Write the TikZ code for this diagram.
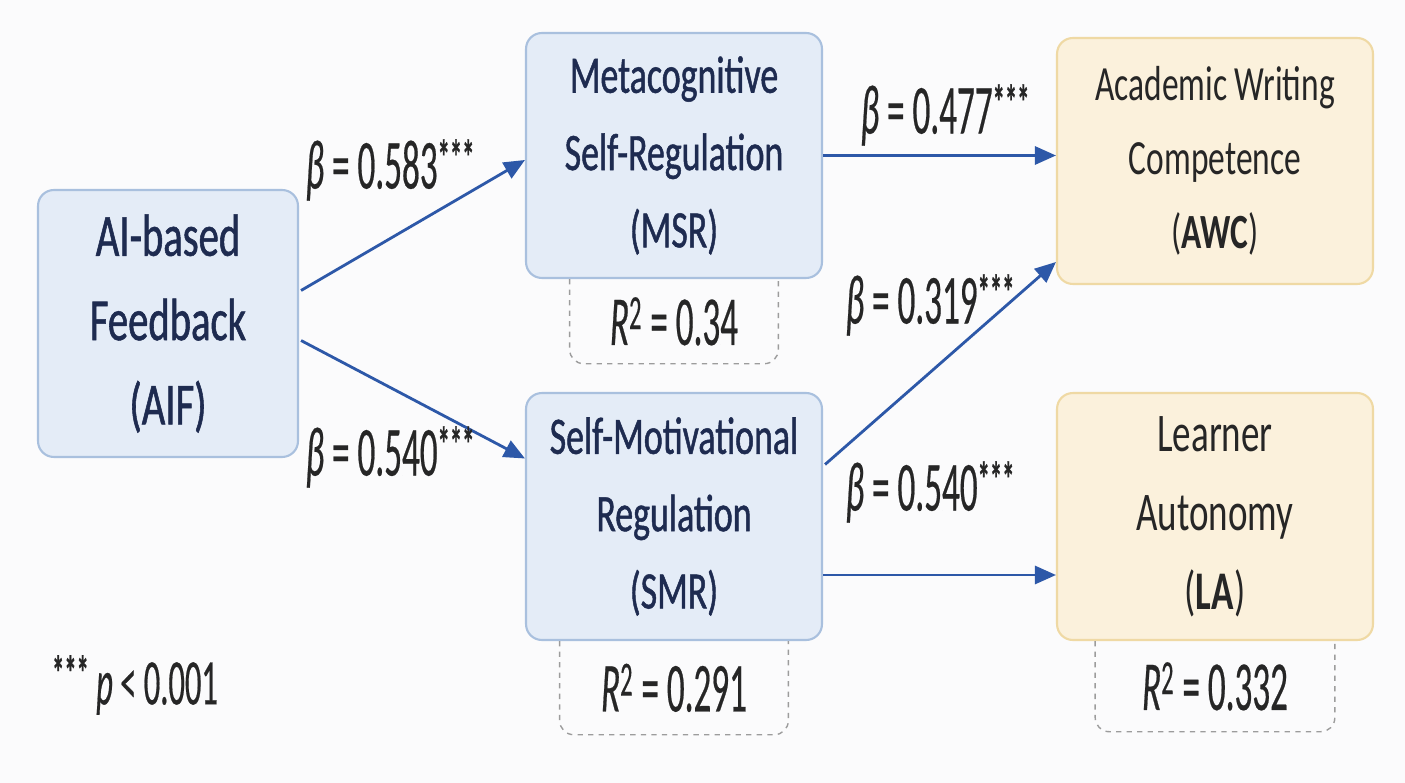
\documentclass[tikz,border=0pt]{standalone}
\usepackage{fontspec}
\setmainfont[FakeStretch=0.68]{Carlito}
\newfontfamily\boxfont[FakeStretch=0.68,FakeBold=0.9]{Carlito}
\newfontfamily\labfont[FakeStretch=0.5,FakeBold=0.3]{Carlito}
\newcommand\stars{\raisebox{8pt}{\fontsize{28}{28}\selectfont\bfseries ***}}
\usetikzlibrary{arrows.meta,calc,positioning}
\definecolor{boxblue}{HTML}{E4ECF7}
\definecolor{lineblue}{HTML}{A9C0DE}
\definecolor{boxcream}{HTML}{FBF1DC}
\definecolor{linecream}{HTML}{EFD9A4}
\definecolor{arrowblue}{HTML}{2D58A8}
\definecolor{navy}{HTML}{1E2B50}
\definecolor{dashgray}{HTML}{9C9C9C}
\definecolor{paper}{HTML}{FBFBFC}
\begin{document}
\begin{tikzpicture}[x=0.02cm,y=-0.02cm]
  \tikzstyle{every node}+=[inner sep=0pt]
  \tikzstyle{bluebox}=[draw=lineblue, line width=1.2pt, fill=boxblue, rounded corners=9pt, align=center, text=navy]
  \tikzstyle{creambox}=[draw=linecream, line width=1.2pt, fill=boxcream, rounded corners=9pt, align=center, text=black!85]
  \tikzstyle{arr}=[arrowblue, line width=1.6pt, -{Triangle[length=0.42cm,width=0.36cm]}]
  \tikzstyle{coef}=[font=\labfont\fontsize{40}{48}\selectfont, text=black!85]
  \tikzstyle{rsq}=[font=\labfont\fontsize{40}{48}\selectfont, text=black!85, below=0pt of #1]
  \tikzstyle{dashbox}=[dashgray, dashed, line width=0.8pt, rounded corners=8pt]
  \fill[paper] (0,0) rectangle (1405,783);
  \useasboundingbox (0,0) rectangle (1405,783);
  % constructs
  \node[bluebox, minimum width=5.2cm, minimum height=5.34cm, font=\boxfont\fontsize{34}{48}\selectfont] (aif) at (168,323.5) {AI-based\\Feedback\\(AIF)};
  \node[bluebox, minimum width=5.92cm, minimum height=4.9cm, font=\boxfont\fontsize{30}{44}\selectfont] (msr) at (674,155.5) {Metacognitive\\Self-Regulation\\(MSR)};
  \node[bluebox, minimum width=5.92cm, minimum height=4.94cm, font=\boxfont\fontsize{30}{44}\selectfont] (smr) at (674,516.5) {Self-Motivational\\Regulation\\(SMR)};
  \node[creambox, minimum width=6.32cm, minimum height=4.92cm, font=\fontsize{28}{42}\selectfont] (awc) at (1215,161) {Academic Writing\\Competence\\(\textbf{AWC})};
  \node[creambox, minimum width=6.32cm, minimum height=4.94cm, font=\fontsize{31}{45}\selectfont] (la) at (1215,516.5) {Learner\\Autonomy\\(\textbf{LA})};
  % explained variance
  \node[rsq=msr, minimum width=4.16cm, minimum height=1.68cm] (r2msr) {\textit{R}\textsuperscript{2} = 0.34};
  \node[rsq=smr, minimum width=4.56cm, minimum height=1.86cm] (r2smr) {\textit{R}\textsuperscript{2} = 0.291};
  \node[rsq=la, minimum width=4.78cm, minimum height=1.8cm] (r2la) {\textit{R}\textsuperscript{2} = 0.332};
  \draw[dashbox] (r2msr.north west) -- (r2msr.south west) -- (r2msr.south east) -- (r2msr.north east);
  \draw[dashbox] (r2smr.north west) -- (r2smr.south west) -- (r2smr.south east) -- (r2smr.north east);
  \draw[dashbox] (r2la.north west) -- (r2la.south west) -- (r2la.south east) -- (r2la.north east);
  % paths
  \draw[arr] ($(aif.east)+(2,-33)$) -- ($(msr.west)+(0,4.5)$);
  \draw[arr] ($(aif.east)+(2,17)$) -- ($(smr.west)+(0,-58)$);
  \draw[arr] (msr.east) -- (msr.east -| awc.west);
  \draw[arr] ($(smr.east)+(2,-52)$) -- ($(awc.west)+(0,101)$);
  \draw[arr] ($(smr.east)+(0,58.5)$) -- ($(la.west)+(0,58.5)$);
  \node[coef] (b1) at (390,170) {\textit{β} = 0.583\stars};
  \node[coef] (b2) at (390,457) {\textit{β} = 0.540\stars};
  \node[coef] (b3) at (945,115) {\textit{β} = 0.477\stars};
  \node[coef] (b4) at (930,305) {\textit{β} = 0.319\stars};
  \node[coef] (b5) at (930,492) {\textit{β} = 0.540\stars};
  \node[coef, font=\labfont\fontsize{37}{44}\selectfont] (note) at (135,685) {\stars{} \textit{p} < 0.001};
\end{tikzpicture}
\end{document}
